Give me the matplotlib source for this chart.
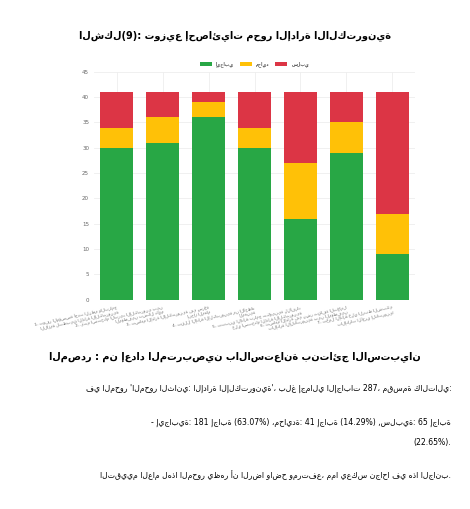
import textwrap

import matplotlib
matplotlib.use("Agg")
import matplotlib.pyplot as plt

try:
    import arabic_reshaper
    from bidi.algorithm import get_display

    def ar(s):
        return get_display(arabic_reshaper.reshape(s))
except ImportError:
    def ar(s):
        return s


def ar_wrapped(s, width=38):
    return "\n".join(ar(line) for line in textwrap.wrap(s, width))


plt.rcParams["font.family"] = ["DejaVu Sans"]

categories = [
    "1- توفر المؤسسة أحدث النظم والبرامج اللازمة لتطبيق الإدارة الإلكترونية",
    "2- يتم استخدام البريد الإلكتروني بين الموظفين بشكل دائم",
    "3- تساهم الإدارة الإلكترونية في سرعة إنجاز المهام",
    "4- تقلل الإدارة الإلكترونية من الأخطاء المهنية",
    "5- تتبنى الإدارة برامج تكوينية للأفراد على استخدام الإدارة الإلكترونية",
    "6- تساهم الإدارة في نشر ثقافة التعامل بالإدارة الإلكترونية بين الموظفين",
    "7- تعمل الإدارة على الربط الشبكي بالإدارات الأخرى إلكترونيا",
]
positive = [30, 31, 36, 30, 16, 29, 9]
neutral = [4, 5, 3, 4, 11, 6, 8]
negative = [7, 5, 2, 7, 14, 6, 24]
series_names = ["إيجابي", "محايد", "سلبي"]
colors = ["#28a745", "#ffc107", "#dc3545"]

fig = plt.figure(figsize=(4.70, 5.09), dpi=100)
fig.patch.set_facecolor("white")

fig.text(0.5, 0.925, ar("الشكل(9): توزيع إحصائيات محور الإدارة الالكترونية"),
         ha="center", fontsize=7, fontweight="bold")

ax = fig.add_axes([0.20, 0.411, 0.683, 0.448])
x = range(len(categories))
bottom2 = [p + n for p, n in zip(positive, neutral)]
ax.bar(x, positive, width=0.72, color=colors[0], label=ar(series_names[0]), zorder=3)
ax.bar(x, neutral, width=0.72, bottom=positive, color=colors[1], label=ar(series_names[1]), zorder=3)
ax.bar(x, negative, width=0.72, bottom=bottom2, color=colors[2], label=ar(series_names[2]), zorder=3)
ax.set_ylim(0, 45)
ax.set_yticks(range(0, 46, 5))
ax.set_xlim(-0.5, len(categories) - 0.5)
ax.set_xticks(list(x))
ax.set_xticklabels([ar_wrapped(c) for c in categories], rotation=12, ha="right",
                   rotation_mode="anchor", fontsize=3, color="#666666", linespacing=1.2)
ax.tick_params(axis="y", labelsize=4, colors="#666666", length=0)
ax.tick_params(axis="x", length=0, pad=4)
ax.grid(True, color="#eeeeee", linewidth=0.6, zorder=0)
for s in ax.spines.values():
    s.set_visible(False)
ax.legend(loc="lower center", bbox_to_anchor=(0.5, 1.0), ncol=3, fontsize=3.5,
          frameon=False, handlelength=2.5, handleheight=0.8, columnspacing=1.2)

fig.text(0.5, 0.295, ar("المصدر : من إعداد المتربصين بالاستعانة بنتائج الاستبيان"),
         ha="center", fontsize=7, fontweight="bold")
lines = [
    (0.232, "في المحور 'المحور الثاني: الإدارة الإلكترونية'، بلغ إجمالي الإجابات 287، مقسمة كالتالي:"),
    (0.165, "- إيجابية: 181 إجابة (63.07%) ،محايدة: 41 إجابة (14.29%) ,سلبية: 65 إجابة"),
    (0.125, "(22.65%)."),
    (0.06, "التقييم العام لهذا المحور يظهر أن الرضا واضح ومرتفع، مما يعكس نجاحا في هذا الجانب."),
]
for y, t in lines:
    fig.text(0.96, y, ar(t), ha="right", fontsize=5.6)

fig.savefig("out.png", dpi=100)
